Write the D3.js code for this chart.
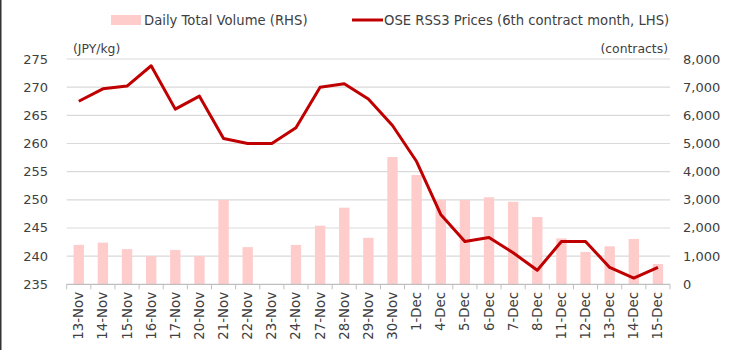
<!DOCTYPE html>
<html>
<head>
<meta charset="utf-8">
<script src="https://cdn.jsdelivr.net/npm/d3@7"></script>
<style>
  body { margin: 0; background: #fff; }
  svg text { font-family: "DejaVu Sans", Verdana, sans-serif; fill: #404040; }
</style>
</head>
<body>
<div id="chart-area"></div>
<script>
// Categories (trading days)
var dates = ["13-Nov", "14-Nov", "15-Nov", "16-Nov", "17-Nov", "20-Nov", "21-Nov", "22-Nov", "23-Nov",
    "24-Nov", "27-Nov", "28-Nov", "29-Nov", "30-Nov", "1-Dec", "4-Dec", "5-Dec", "6-Dec", "7-Dec",
    "8-Dec", "11-Dec", "12-Dec", "13-Dec", "14-Dec", "15-Dec"];

// OSE RSS3 prices, JPY/kg (left axis)
var prices = [267.5, 269.7, 270.2, 273.8, 266.1, 268.4, 260.9, 260.0, 260.0, 262.8, 270.0, 270.6, 267.9,
    263.2, 256.8, 247.4, 242.6, 243.3, 240.6, 237.5, 242.6, 242.6, 238.0, 236.1, 238.0];

// Daily total volume, contracts (right axis)
var volumes = [1400, 1480, 1250, 1000, 1220, 1000, 3000, 1320, 0, 1400, 2080, 2720, 1650, 4520, 3880,
    3000, 3000, 3090, 2930, 2390, 1630, 1150, 1350, 1610, 720];

var leftTicks = [235, 240, 245, 250, 255, 260, 265, 270, 275];
var rightTicks = [0, 1000, 2000, 3000, 4000, 5000, 6000, 7000, 8000];

var W = 743, H = 350;
var plot = { left: 66.7, right: 670, top: 59, bottom: 284.3 };

var svg = d3.select("#chart-area").append("svg")
    .attr("width", W)
    .attr("height", H);

// left border
svg.append("line").attr("x1", 0.75).attr("x2", 0.75).attr("y1", 0).attr("y2", H)
    .attr("stroke", "#333").attr("stroke-width", 1.5);

// Scales
var x = d3.scaleBand().domain(dates).range([plot.left, plot.right]).paddingInner(0.57).paddingOuter(0.285);
var yL = d3.scaleLinear().domain([235, 275]).range([plot.bottom, plot.top]);
var yR = d3.scaleLinear().domain([0, 8000]).range([plot.bottom, plot.top]);
var step = x.step();

// Gridlines
svg.append("g").selectAll("line").data(leftTicks.slice(1)).enter().append("line")
    .attr("x1", plot.left).attr("x2", plot.right)
    .attr("y1", d => yL(d)).attr("y2", d => yL(d))
    .attr("stroke", "#d9d9d9").attr("stroke-width", 1.2);

// Bars
svg.append("g").selectAll("rect").data(volumes).enter().append("rect")
    .attr("x", (d, i) => x(dates[i]))
    .attr("y", d => yR(d))
    .attr("width", x.bandwidth())
    .attr("height", d => plot.bottom - yR(d))
    .attr("fill", "#ffcccc");

// X axis line + ticks
svg.append("line").attr("x1", plot.left).attr("x2", plot.right)
    .attr("y1", plot.bottom).attr("y2", plot.bottom)
    .attr("stroke", "#bfbfbf").attr("stroke-width", 1.2);
svg.append("g").selectAll("line").data(d3.range(dates.length + 1)).enter().append("line")
    .attr("x1", i => plot.left + i * step).attr("x2", i => plot.left + i * step)
    .attr("y1", plot.bottom).attr("y2", plot.bottom + 5)
    .attr("stroke", "#bfbfbf").attr("stroke-width", 1);

// X labels
svg.append("g").selectAll("text").data(dates).enter().append("text")
    .attr("transform", d => `translate(${x(d) + x.bandwidth() / 2 + 4.5},292) rotate(-90)`)
    .attr("text-anchor", "end")
    .attr("font-size", "13.3px")
    .text(d => d);

// Line
var line = d3.line()
    .x((d, i) => x(dates[i]) + x.bandwidth() / 2)
    .y(d => yL(d));
svg.append("path").datum(prices)
    .attr("d", line)
    .attr("fill", "none")
    .attr("stroke", "#c00000")
    .attr("stroke-width", 3)
    .attr("stroke-linejoin", "round");

// Left axis labels
svg.append("g").selectAll("text").data(leftTicks).enter().append("text")
    .attr("x", 48).attr("y", d => yL(d) + 4.5)
    .attr("text-anchor", "end")
    .attr("font-size", "13px")
    .text(d => d);

// Right axis labels
svg.append("g").selectAll("text").data(rightTicks).enter().append("text")
    .attr("x", 683).attr("y", d => yR(d) + 4.5)
    .attr("text-anchor", "start")
    .attr("font-size", "13px")
    .text(d => d3.format(",")(d));

// Units
svg.append("text").attr("x", 73).attr("y", 53).attr("font-size", "12.4px").text("(JPY/kg)");
svg.append("text").attr("x", 668).attr("y", 53).attr("text-anchor", "end").attr("font-size", "12.4px").text("(contracts)");

// Legend
var legend = svg.append("g");
legend.append("rect").attr("x", 111).attr("y", 15).attr("width", 30).attr("height", 10).attr("fill", "#ffcccc");
legend.append("text").attr("x", 144).attr("y", 24.5).attr("font-size", "13.2px").text("Daily Total Volume (RHS)");
legend.append("line").attr("x1", 352).attr("x2", 383).attr("y1", 20).attr("y2", 20)
    .attr("stroke", "#c00000").attr("stroke-width", 3);
legend.append("text").attr("x", 384).attr("y", 24.5).attr("font-size", "13.2px")
    .text("OSE RSS3 Prices (6th contract month, LHS)");
</script>
</body>
</html>
